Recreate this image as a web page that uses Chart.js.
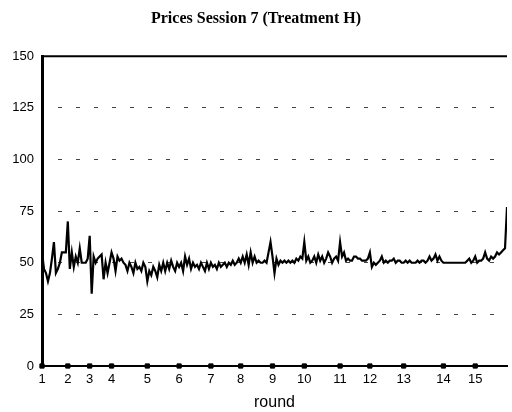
<!DOCTYPE html>
<html lang="en">
<head>
    <meta charset="UTF-8">
    <title>Prices Session 7</title>
    <style>
        html, body { margin: 0; padding: 0; background: #fff; }
        #wrap { width: 512px; height: 412px; }
    </style>
</head>
<body>
    <div id="wrap"><canvas id="priceChart" width="512" height="412"></canvas></div>

    <script src="https://cdn.jsdelivr.net/npm/chart.js"></script>
    <script>
        // prices per round, one entry per trade
        var r1 = [55, 47, 45, 41, 45, 52, 60, 45, 47, 50, 55, 55, 55];
        var r2 = [70, 47, 55, 48, 53, 50, 57, 50, 50, 50, 52];
        var r3 = [63, 35, 53, 50, 52, 53, 54, 42, 50, 45, 50];
        var r4 = [55, 52, 46, 53, 51, 52, 50, 49, 46, 50, 48, 45, 50, 47, 48, 46, 50, 48];
        var r5 = [41, 46, 44, 48, 46, 43, 49, 46, 50, 46, 50, 47, 51, 48, 46, 50];
        var r6 = [48, 50, 46, 53, 49, 52, 47, 50, 48, 49, 47, 50, 48, 46, 50, 47];
        var r7 = [50, 48, 49, 47, 50, 48, 49, 50, 48, 50, 49, 51, 49, 50, 52];
        var r8 = [50, 53, 50, 54, 49, 55, 50, 53, 50, 51, 50, 50, 51, 50, 55, 60];
        var r9 = [53, 45, 52, 49, 51, 50, 51, 50, 51, 50, 51, 50, 52, 51, 53, 52];
        var r10 = [60, 51, 53, 50, 51, 53, 50, 54, 51, 53, 50, 52, 55, 53, 50, 52, 53, 51];
        var r11 = [60, 53, 55, 51, 52, 51, 51, 53, 53, 52, 52, 51, 51, 51, 52];
        var r12 = [55, 48, 50, 49, 50, 51, 53, 50, 51, 50, 51, 51, 52, 50, 51, 51, 50];
        var r13 = [50, 51, 50, 51, 50, 50, 50, 51, 50, 51, 51, 50, 51, 53, 51, 52, 54, 51, 53, 51];
        var r14 = [50, 50, 50, 50, 50, 50, 50, 50, 50, 50, 50, 50, 51, 52, 50, 51];
        var r15 = [53, 50, 51, 51, 52, 55, 52, 51, 53, 52, 53, 55, 54, 55, 56, 57, 77];

        var rounds = [r1, r2, r3, r4, r5, r6, r7, r8, r9, r10, r11, r12, r13, r14, r15];
        var roundLabels = ["1", "2", "3", "4", "5", "6", "7", "8", "9", "10", "11", "12", "13", "14", "15"];
        var yTicks = [0, 25, 50, 75, 100, 125, 150];

        // flatten into trade index / price points, remember where each round starts
        var pricePoints = [];
        var roundStarts = [];
        var idx = 0;
        rounds.forEach(function (r) {
            roundStarts.push(idx);
            r.forEach(function (p) {
                pricePoints.push({ x: idx, y: p });
                idx++;
            });
        });
        var lastIdx = idx - 1;
        var markerPoints = roundStarts.map(function (s) { return { x: s, y: 0 }; });

        // solid top border of the plot area
        var topBorder = {
            id: 'topBorder',
            afterDraw: function (chart) {
                var a = chart.chartArea;
                var c = chart.ctx;
                c.save();
                c.strokeStyle = '#000';
                c.lineWidth = 2;
                c.beginPath();
                c.moveTo(a.left, a.top);
                c.lineTo(a.right, a.top);
                c.stroke();
                c.restore();
            }
        };

        var ctx = document.getElementById("priceChart").getContext("2d");
        new Chart(ctx, {
            type: "line",
            data: {
                datasets: [{
                    data: pricePoints,
                    borderColor: "#000",
                    borderWidth: 2.2,
                    pointRadius: 0,
                    tension: 0,
                    fill: false
                }, {
                    data: markerPoints,
                    showLine: false,
                    pointStyle: 'rect',
                    pointRadius: 3,
                    backgroundColor: "#000",
                    borderColor: "#000",
                    borderWidth: 1,
                    clip: false
                }]
            },
            plugins: [topBorder],
            options: {
                responsive: false,
                animation: false,
                layout: { padding: { left: 0, right: 0, top: 0, bottom: 0 } },
                plugins: {
                    legend: { display: false },
                    tooltip: { enabled: false },
                    title: {
                        display: true,
                        text: "Prices Session 7 (Treatment H)",
                        color: "#000",
                        font: { family: "'Liberation Serif', 'Times New Roman', serif", size: 16, weight: "bold" },
                        padding: { top: 9, bottom: 28 }
                    }
                },
                scales: {
                    x: {
                        type: "linear",
                        min: 0,
                        max: lastIdx,
                        offset: false,
                        afterBuildTicks: function (axis) {
                            axis.ticks = roundStarts.map(function (s) { return { value: s }; });
                        },
                        afterFit: function (axis) { axis.height = 46; },
                        grid: { display: false, drawTicks: false },
                        border: { display: true, color: "#000", width: 2 },
                        ticks: {
                            autoSkip: false,
                            maxRotation: 0,
                            padding: 6,
                            color: "#000",
                            font: { family: "'Liberation Sans', Arial, sans-serif", size: 13 },
                            callback: function (value) {
                                var i = roundStarts.indexOf(value);
                                return i >= 0 ? roundLabels[i] : "";
                            }
                        },
                        title: {
                            display: true,
                            text: "round",
                            color: "#000",
                            font: { family: "'Liberation Sans', Arial, sans-serif", size: 16 },
                            padding: { top: 2, bottom: 0 }
                        }
                    },
                    y: {
                        min: 0,
                        max: 150,
                        afterBuildTicks: function (axis) {
                            axis.ticks = yTicks.map(function (v) { return { value: v }; });
                        },
                        afterFit: function (axis) { axis.width = 42; },
                        grid: {
                            drawTicks: false,
                            lineWidth: 1,
                            color: function (c) {
                                var v = c.tick ? c.tick.value : null;
                                return (v === 0 || v === 150) ? "rgba(0,0,0,0)" : "#444";
                            }
                        },
                        border: { display: true, color: "#000", width: 3, dash: [4, 14], dashOffset: 4 },
                        ticks: {
                            padding: 8,
                            color: "#000",
                            font: { family: "'Liberation Sans', Arial, sans-serif", size: 13 }
                        }
                    }
                }
            }
        });
    </script>
</body>
</html>
